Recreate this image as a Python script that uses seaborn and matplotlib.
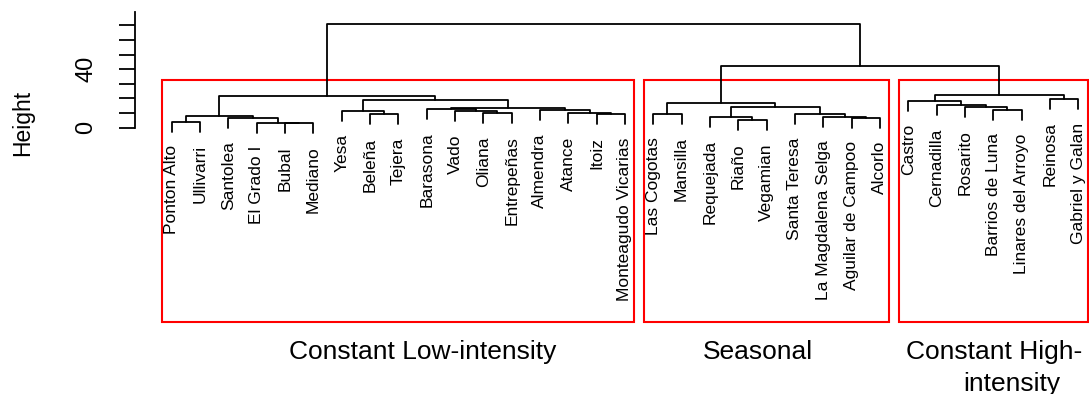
import numpy as np
import pandas as pd
import matplotlib
matplotlib.use("Agg")
import matplotlib.pyplot as plt
from matplotlib.patches import Rectangle
import seaborn as sns

sns.set_style("white")
plt.rcParams['font.family'] = ['Liberation Sans', 'DejaVu Sans']
plt.rcParams['text.color'] = 'black'
plt.rcParams['axes.labelcolor'] = 'black'
plt.rcParams['ytick.color'] = 'black'

# leaf labels in dendrogram order
leaves = ["Ponton Alto", "Ullivarri", "Santolea", "El Grado I", "Bubal", "Mediano",
          "Yesa", "Beleña", "Tejera", "Barasona", "Vado", "Oliana", "Entrepeñas",
          "Almendra", "Atance", "Itoiz", "Monteagudo Vicarias",
          "Las Cogotas", "Mansilla", "Requejada", "Riaño", "Vegamian", "Santa Teresa",
          "La Magdalena Selga", "Aguilar de Campoo", "Alcorlo",
          "Castro", "Cernadilla", "Rosarito", "Barrios de Luna", "Linares del Arroyo",
          "Reinosa", "Gabriel y Galan"]

# merges: ids < 33 are leaves, ids >= 33 are earlier merges (33 + row)
merge_left = [0, 4, 3, 2, 33, 7, 6, 11, 10, 9, 15, 14, 13, 42, 39, 37,
              17, 20, 19, 24, 23, 22, 51, 49, 29, 28, 27, 26, 31, 60, 56, 48]
merge_right = [1, 5, 34, 35, 36, 8, 38, 12, 40, 41, 16, 43, 44, 45, 46, 47,
               18, 21, 50, 25, 52, 53, 54, 55, 30, 57, 58, 59, 32, 61, 62, 63]
merge_height = [4.1, 3.0, 3.4, 6.4, 7.8, 9.2, 11.4, 9.8, 11.4, 12.8, 9.2, 9.8, 12.1, 13.7, 18.9, 21.7,
                9.4, 5.3, 7.5, 6.8, 7.5, 9.2, 14.4, 16.7, 12.1, 13.9, 15.3, 18.5, 19.4, 22.4, 42.4, 70.9]

group_sizes = [17, 9, 7]

y_ticks = [0, 10, 20, 30, 40, 50, 60, 70]
y_ticklabels = ["0", "", "", "", "40", "", "", ""]

n = len(leaves)
hang = 0.1 * (max(merge_height) - min(merge_height))
pos = {i: i + 1.0 for i in range(n)}
node_h = {}
leaf_end = {}
rows = []
for k, (l, r, h) in enumerate(zip(merge_left, merge_right, merge_height)):
    node = n + k
    ends = []
    for c in (l, r):
        if c < n:
            leaf_end[c] = h - hang
            ends.append(h - hang)
        else:
            ends.append(node_h[c])
    pts = [(pos[l], ends[0]), (pos[l], h), (pos[r], h), (pos[r], ends[1])]
    for j, (x, y) in enumerate(pts):
        rows.append({"link": k, "order": j, "x": x, "y": y})
    pos[node] = (pos[l] + pos[r]) / 2
    node_h[node] = h
links = pd.DataFrame(rows)

W, H = 1089, 394
fig = plt.figure(figsize=(W / 100, H / 100), dpi=100)
ax_left = 135.4
ax = fig.add_axes([ax_left / W, 0, 1 - ax_left / W, 1])

sns.lineplot(data=links, x="x", y="y", units="link", estimator=None, sort=False,
             color="black", linewidth=1.3, ax=ax)

ax.set_xlim(-0.28, 33.38)
ax.set_ylim(-182.0, 87.3)

for i, name in enumerate(leaves):
    ax.annotate(name, (pos[i], leaf_end[i]), xytext=(0, -9.5), textcoords="offset points",
                rotation=90, ha="center", va="top", fontsize=12.5, color="black")

# cluster rectangles (k = 3)
hs = sorted(merge_height, reverse=True)
rect_top = (hs[1] + hs[2]) / 2
rect_bottom = -132.6
edges = np.concatenate([[0], np.cumsum(group_sizes)])
for a, b in zip(edges[:-1], edges[1:]):
    ax.add_patch(Rectangle((a + 0.66, rect_bottom), (b + 0.33) - (a + 0.66), rect_top - rect_bottom,
                           fill=False, edgecolor="#ff0000", linewidth=1.5, clip_on=False))

lab_kw = dict(ha="center", va="baseline", fontsize=19, color="black")
ax.text(9.87, -158.3, "Constant Low-intensity", **lab_kw)
ax.text(21.68, -158.3, "Seasonal", **lab_kw)
ax.text(30.03, -158.3, "Constant High-", **lab_kw)
ax.text(30.66, -180.0, "intensity", **lab_kw)

sns.despine(ax=ax, top=True, right=True, bottom=True, left=False)
ax.spines["left"].set_bounds(0, 79.3)
ax.spines["left"].set_linewidth(1.3)
ax.spines["left"].set_color("black")
ax.set_xticks([])
ax.set_yticks(y_ticks)
ax.set_yticklabels(y_ticklabels, rotation=90, va="center", fontsize=17)
ax.tick_params(axis="y", direction="out", length=11.5, width=1.3, color="black", pad=16, left=True)
ax.set_xlabel("")
ax.set_ylabel("")
fig.text(23 / W, 1 - 123 / H, "Height", rotation=90, ha="center", va="center", fontsize=16.5)

fig.savefig("out.png", dpi=100)
